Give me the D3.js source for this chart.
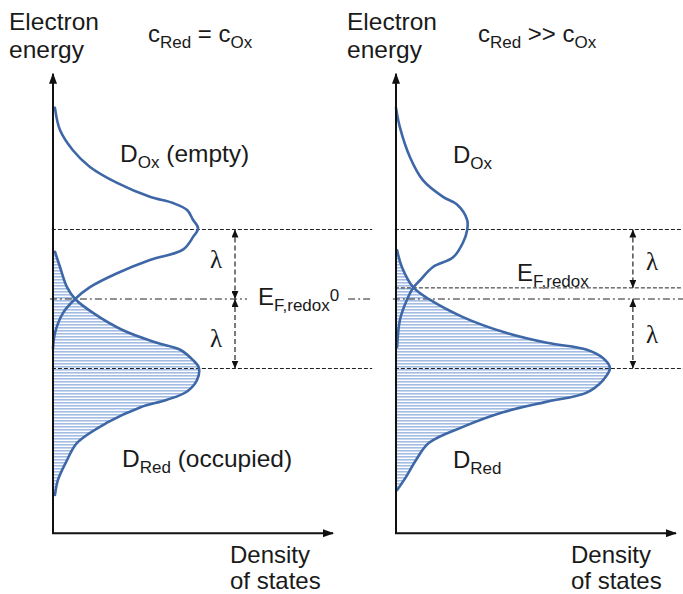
<!DOCTYPE html>
<html><head><meta charset="utf-8">
<script src="https://cdn.jsdelivr.net/npm/d3@7"></script>
<style>
body{margin:0;background:#fff}
svg text{font-family:"Liberation Sans",Arial,Helvetica,sans-serif;fill:#1a1a1a}
</style>
</head><body>
<svg id="chart" width="683" height="594"></svg>
<script>
// ---- data: [density of states (a.u.), electron energy (units of lambda, relative to E_F,redox^0)] ----
const leftOx = [[0.007,2.75],[0.025,2.43],[0.071,2.14],[0.132,1.90],[0.229,1.67],[0.346,1.47],[0.429,1.38],[0.479,1.28],[0.50,1.14],[0.518,1.02],[0.50,0.89],[0.464,0.71],[0.346,0.56],[0.229,0.37],[0.132,0.17],[0.079,0.0],[0.036,-0.20],[0.007,-0.49],[0.0,-0.71]];
const leftRed = [[0.007,0.68],[0.025,0.46],[0.05,0.17],[0.079,0.0],[0.143,-0.20],[0.25,-0.45],[0.371,-0.63],[0.454,-0.73],[0.50,-0.88],[0.521,-0.99],[0.514,-1.17],[0.479,-1.33],[0.407,-1.45],[0.311,-1.56],[0.193,-1.78],[0.086,-2.07],[0.05,-2.32],[0.018,-2.60],[0.007,-2.82]];
const rightOx = [[0.0,2.75],[0.014,2.47],[0.05,2.04],[0.096,1.71],[0.168,1.47],[0.218,1.36],[0.254,1.14],[0.254,0.99],[0.239,0.81],[0.204,0.60],[0.132,0.46],[0.086,0.27],[0.061,0.16],[0.039,-0.01],[0.014,-0.30],[0.004,-0.69]];
const rightRed = [[0.004,0.70],[0.021,0.46],[0.061,0.17],[0.121,-0.01],[0.239,-0.26],[0.396,-0.49],[0.539,-0.63],[0.682,-0.73],[0.739,-0.85],[0.764,-0.99],[0.739,-1.17],[0.679,-1.35],[0.536,-1.48],[0.382,-1.63],[0.239,-1.84],[0.118,-2.07],[0.071,-2.32],[0.036,-2.56],[0.004,-2.75]];
// energy levels: [energy, style]
const leftLevels = [[1,"dash"],[0,"dashdot"],[-1,"dash"]];
const rightLevels = [[1,"dash"],[0.16,"dash"],[0,"dashdot"],[-1,"dash"]];
// lambda arrows: [from, to]
const leftArrows = [[1,0],[0,-1]];
const rightArrows = [[1,0.16],[0,-1]];
const energyExtent = [-3.37, 3.24];

const svg = d3.select("#chart");
const y = d3.scaleLinear().domain([-1,1]).range([368.5,229.5]);
const xL = d3.scaleLinear().domain([0,1]).range([53,333]);
const xR = d3.scaleLinear().domain([0,1]).range([396,676]);

const defs = svg.append("defs");
defs.append("marker").attr("id","axArrow").attr("markerUnits","userSpaceOnUse")
  .attr("markerWidth",11).attr("markerHeight",8).attr("refX",10).attr("refY",4).attr("orient","auto")
  .append("path").attr("d","M0,0L11,4L0,8Z").attr("fill","#111");
defs.append("marker").attr("id","smArrow").attr("markerUnits","userSpaceOnUse")
  .attr("markerWidth",8).attr("markerHeight",7).attr("refX",8).attr("refY",3.5).attr("orient","auto-start-reverse")
  .append("path").attr("d","M0,0L8,3.5L0,7Z").attr("fill","#111");
const pat = defs.append("pattern").attr("id","hatch").attr("patternUnits","userSpaceOnUse")
  .attr("width",683).attr("height",3);
pat.append("rect").attr("x",0).attr("y",0).attr("width",683).attr("height",1.6).attr("fill","#a3bce3");

function panel(x, ox, red, levels, arrows, lineEnd, arrowD, dashdotGap){
  const g = svg.append("g");
  const area = d3.area().curve(d3.curveCatmullRom)
    .y(d=>y(d[1])).x0(x(0)).x1(d=>x(d[0]));
  g.append("path").datum(red).attr("d",area).attr("fill","url(#hatch)");
  levels.forEach(([e,st])=>{
    const start = st==="dashdot" ? -0.011 : -0.004;
    const segs = (dashdotGap && st==="dashdot") ? [[start,dashdotGap[0]],[dashdotGap[1],lineEnd]] : [[start,lineEnd]];
    segs.forEach(s=>{
      g.append("line").attr("x1",x(s[0])).attr("x2",x(s[1])).attr("y1",y(e)).attr("y2",y(e))
        .attr("stroke","#222").attr("stroke-width",1)
        .attr("stroke-dasharray", st==="dash" ? "4,2" : "7,3,2,3");
    });
  });
  arrows.forEach(([a,b])=>{
    g.append("line").attr("x1",x(arrowD)).attr("x2",x(arrowD)).attr("y1",y(a)).attr("y2",y(b))
      .attr("stroke","#222").attr("stroke-width",1.2).attr("stroke-dasharray","5,3")
      .attr("marker-start","url(#smArrow)").attr("marker-end","url(#smArrow)");
  });
  const line = d3.line().curve(d3.curveCatmullRom).x(d=>x(d[0])).y(d=>y(d[1]));
  [ox, red].forEach(c=>{
    g.append("path").datum(c).attr("d",line).attr("fill","none")
      .attr("stroke","#3d67a6").attr("stroke-width",2.6).attr("stroke-linecap","round");
  });
  g.append("line").attr("x1",x(0)).attr("x2",x(0)).attr("y1",y(energyExtent[0])).attr("y2",y(energyExtent[1]))
    .attr("stroke","#111").attr("stroke-width",2).attr("marker-end","url(#axArrow)");
  g.append("line").attr("x1",x(0)-1).attr("x2",x(1)).attr("y1",y(energyExtent[0])).attr("y2",y(energyExtent[0]))
    .attr("stroke","#111").attr("stroke-width",2).attr("marker-end","url(#axArrow)");
}

panel(xL, leftOx, leftRed, leftLevels, leftArrows, 1.14, 0.65, [0.693,1.054]);
panel(xR, rightOx, rightRed, rightLevels, rightArrows, 1.03, 0.846, null);

// ---- text ----
function label(x0, y0, parts, size){
  const t = svg.append("text").attr("x",x0).attr("y",y0).attr("font-size",size);
  let cur = 0;
  parts.forEach(([s,k])=>{
    const target = k==="sub" ? 6 : (k==="sup" ? -4 : 0);
    const fs = k==="n" ? size : Math.round(size*0.7);
    t.append("tspan").attr("dy", target-cur).attr("font-size",fs).text(s);
    cur = target;
  });
  return t;
}
function plain(x0,y0,s,size){ return svg.append("text").attr("x",x0).attr("y",y0).attr("font-size",size).text(s); }
function lam(x0,y0){ return svg.append("text").attr("x",x0).attr("y",y0).attr("font-size",25)
  .style("font-family","'Liberation Serif','DejaVu Serif',serif").text("λ"); }

plain(9,30,"Electron",24.5); plain(9,58,"energy",24.5);
plain(347,30,"Electron",24.5); plain(347,58,"energy",24.5);
label(148,42,[["c","n"],["Red","sub"],[" = c","n"],["Ox","sub"]],24);
label(478,42,[["c","n"],["Red","sub"],[" >> c","n"],["Ox","sub"]],24);
label(120,162,[["D","n"],["Ox","sub"],[" (empty)","n"]],24.5);
label(453,163,[["D","n"],["Ox","sub"]],24);
label(122,467,[["D","n"],["Red","sub"],[" (occupied)","n"]],24.5);
label(453,468,[["D","n"],["Red","sub"]],24);
plain(230,563,"Density",24); plain(230,589,"of states",24);
plain(571,563,"Density",24); plain(571,589,"of states",24);
lam(210,268); lam(210,347);
lam(646,270); lam(646,343);
const ef = svg.append("text").attr("x",258).attr("y",305).attr("font-size",24);
ef.append("tspan").text("E");
ef.append("tspan").attr("dy",6).attr("font-size",17).text("F,redox");
ef.append("tspan").attr("dy",-10).attr("font-size",17).text("0");
label(517,281,[["E","n"],["F,redox","sub"]],24);
</script>
</body></html>
